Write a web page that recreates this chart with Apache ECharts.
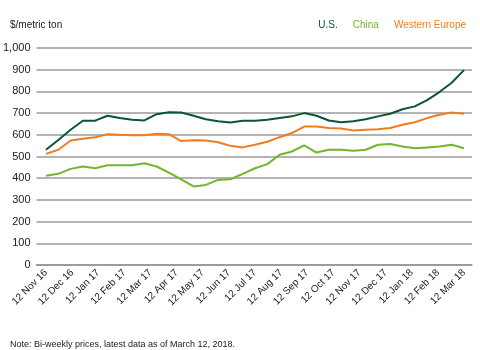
<!DOCTYPE html>
<html>
<head>
<meta charset="utf-8">
<script src="https://cdn.jsdelivr.net/npm/echarts@6/dist/echarts.min.js"></script>
<style>
  html, body { margin: 0; padding: 0; background: #fff; }
  #chart { width: 480px; height: 350px; }
</style>
</head>
<body>
<div id="chart"></div>
<script>
// month tick labels (x axis)
const monthLabels = ['12 Nov 16', '12 Dec 16', '12 Jan 17', '12 Feb 17', '12 Mar 17', '12 Apr 17',
  '12 May 17', '12 Jun 17', '12 Jul 17', '12 Aug 17', '12 Sep 17', '12 Oct 17', '12 Nov 17',
  '12 Dec 17', '12 Jan 18', '12 Feb 18', '12 Mar 18']

// bi-weekly observation dates
const dates = ['2016-11-12', '2016-11-26', '2016-12-10', '2016-12-24', '2017-01-07', '2017-01-21',
  '2017-02-04', '2017-02-18', '2017-03-04', '2017-03-18', '2017-04-01', '2017-04-15', '2017-04-29',
  '2017-05-13', '2017-05-27', '2017-06-10', '2017-06-24', '2017-07-08', '2017-07-22', '2017-08-05',
  '2017-08-19', '2017-09-02', '2017-09-16', '2017-09-30', '2017-10-14', '2017-10-28', '2017-11-11',
  '2017-11-25', '2017-12-09', '2017-12-23', '2018-01-06', '2018-01-20', '2018-02-03', '2018-02-17',
  '2018-03-12']

const usPrices = [531, 576, 623, 665, 665, 688, 677, 669, 666, 695, 704, 703, 688, 672, 662, 657,
  665, 665, 669, 677, 685, 700, 688, 666, 658, 662, 672, 685, 697, 718, 731, 760, 797, 840, 898]

const chinaPrices = [411, 420, 443, 454, 446, 460, 460, 460, 469, 454, 426, 395, 362, 369, 392, 395,
  420, 446, 465, 508, 523, 551, 518, 531, 531, 526, 531, 554, 558, 546, 538, 542, 546, 554, 538]

const europePrices = [512, 531, 574, 582, 589, 603, 600, 598, 598, 605, 603, 571, 575, 574, 566, 549,
  542, 554, 568, 589, 608, 638, 638, 631, 629, 620, 623, 626, 631, 646, 658, 677, 692, 703, 697]

const font = '"Liberation Sans Narrow", "Liberation Sans", sans-serif'
const US = '#0b5534'
const CHINA = '#72b62c'
const EUROPE = '#f07c1e'
const GRIDLINE = '#9a9a9a'

const chart = echarts.init(document.getElementById('chart'))
chart.setOption({
  animation: false,
  textStyle: { fontFamily: font },
  // grid 0: y labels and gridlines, grid 1: the plotted lines (inset)
  grid: [
    { left: 33, right: 8, top: 48, bottom: 85 },
    { left: 46, right: 16, top: 48, bottom: 85 }
  ],
  title: [
    {
      text: '$/metric ton',
      left: 5,
      top: 15,
      textStyle: { fontFamily: font, fontSize: 10, fontWeight: 'normal', color: '#222' }
    },
    {
      text: 'Note: Bi-weekly prices, latest data as of March 12, 2018.',
      left: 5,
      top: 335,
      textStyle: { fontFamily: font, fontSize: 9, fontWeight: 'normal', color: '#222' }
    }
  ],
  legend: {
    right: 9,
    top: 15,
    itemWidth: 0,
    itemHeight: 0,
    itemGap: 10,
    icon: 'none',
    textStyle: { fontFamily: font, fontSize: 10 },
    data: [
      { name: 'U.S.', textStyle: { color: US } },
      { name: 'China', textStyle: { color: CHINA } },
      { name: 'Western Europe', textStyle: { color: EUROPE } }
    ]
  },
  xAxis: [
    {
      gridIndex: 0,
      type: 'category',
      data: monthLabels,
      axisLine: { show: true, onZero: false, lineStyle: { color: GRIDLINE, width: 1.5 } },
      axisTick: { show: false },
      axisLabel: { show: false }
    },
    {
      gridIndex: 1,
      type: 'category',
      data: monthLabels,
      boundaryGap: false,
      axisLine: { show: false },
      axisTick: { show: false },
      axisLabel: {
        interval: 0,
        rotate: 45,
        margin: 6,
        fontFamily: font,
        fontSize: 10,
        color: '#222'
      }
    },
    {
      gridIndex: 1,
      type: 'category',
      data: dates,
      boundaryGap: false,
      show: false
    }
  ],
  yAxis: [
    {
      gridIndex: 0,
      type: 'value',
      min: 0,
      max: 1000,
      interval: 100,
      axisLine: { show: false },
      axisTick: { show: false },
      axisLabel: {
        margin: 6,
        fontFamily: font,
        fontSize: 11,
        color: '#222',
        formatter: v => v.toLocaleString('en-US')
      },
      splitLine: { showMinLine: true, showMaxLine: true, lineStyle: { color: GRIDLINE, width: 1.5 } }
    },
    {
      gridIndex: 1,
      type: 'value',
      min: 0,
      max: 1000,
      interval: 100,
      show: false,
      splitLine: { show: false }
    }
  ],
  series: [
    {
      // carries the zero baseline across the full gridline width
      name: 'baseline',
      type: 'line',
      xAxisIndex: 0,
      yAxisIndex: 0,
      data: [],
      silent: true,
      markLine: {
        silent: true,
        symbol: 'none',
        label: { show: false },
        lineStyle: { color: GRIDLINE, width: 1.5, type: 'solid' },
        data: [{ yAxis: 0 }]
      }
    },
    {
      name: 'U.S.',
      type: 'line',
      xAxisIndex: 2,
      yAxisIndex: 1,
      data: usPrices,
      symbol: 'none',
      lineStyle: { color: US, width: 2 },
      itemStyle: { color: US }
    },
    {
      name: 'China',
      type: 'line',
      xAxisIndex: 2,
      yAxisIndex: 1,
      data: chinaPrices,
      symbol: 'none',
      lineStyle: { color: CHINA, width: 2 },
      itemStyle: { color: CHINA }
    },
    {
      name: 'Western Europe',
      type: 'line',
      xAxisIndex: 2,
      yAxisIndex: 1,
      data: europePrices,
      symbol: 'none',
      lineStyle: { color: EUROPE, width: 2 },
      itemStyle: { color: EUROPE }
    }
  ]
})
</script>
</body>
</html>
